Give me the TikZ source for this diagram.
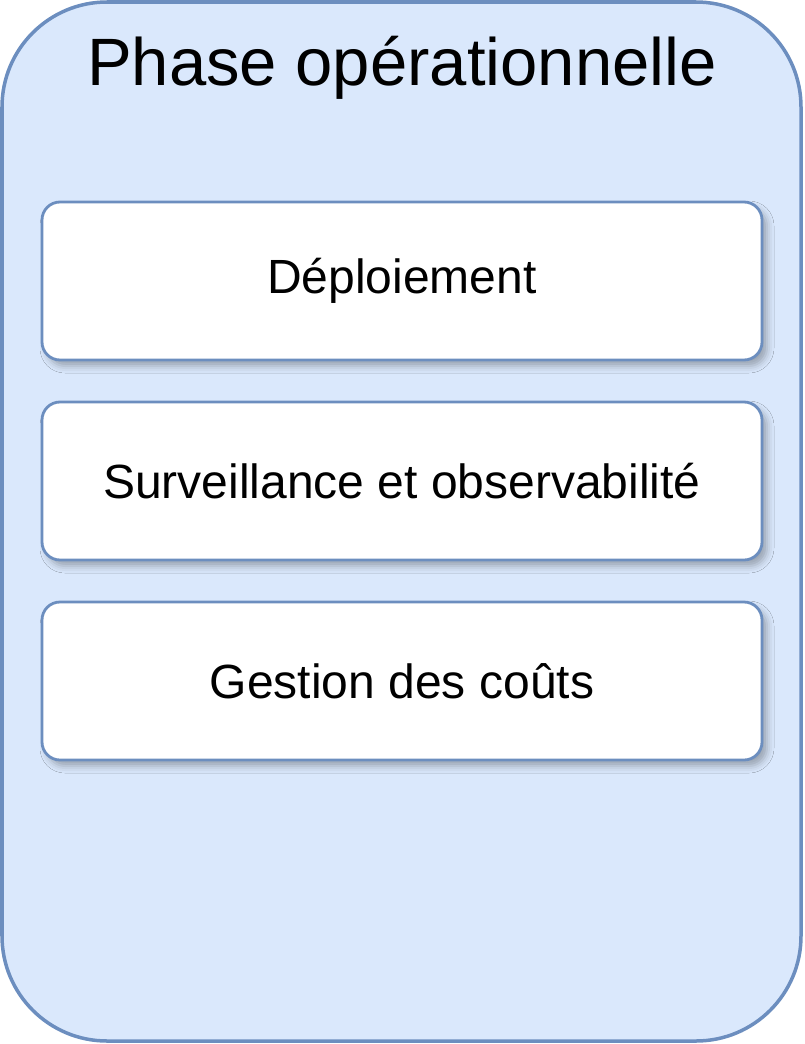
\documentclass[tikz,border=0pt]{standalone}
\usepackage{fontspec}
\setmainfont{Liberation Sans}
\usetikzlibrary{shadows.blur}
\definecolor{outerfill}{HTML}{DAE8FC}
\definecolor{outerdraw}{HTML}{6C8EBF}
\tikzset{
  phasebox/.style={draw=outerdraw, fill=outerfill, line width=3.5pt, rounded corners=105pt},
  itembox/.style={draw=outerdraw, fill=white, line width=2.8pt, rounded corners=18pt,
    minimum width=720pt, minimum height=158pt, inner sep=0pt,
    blur shadow={shadow xshift=5pt, shadow yshift=-6pt, shadow blur radius=7pt, shadow opacity=30},
    font=\fontsize{48}{56}\selectfont},
  titletext/.style={font=\fontsize{67}{76}\selectfont, inner sep=0pt}
}
\begin{document}
\begin{tikzpicture}[x=1pt,y=-1pt]
\useasboundingbox (0,0) rectangle (804,1044);
\draw[phasebox] (2,2) rectangle (801,1041);
\node[titletext] (title) at (402,68) {Phase opérationnelle};
\node[itembox] (dep) at (402,281) {Déploiement};
\node[itembox] (surv) at (402,481) {Surveillance et observabilité};
\node[itembox] (cout) at (402,681) {Gestion des coûts};
\end{tikzpicture}
\end{document}
